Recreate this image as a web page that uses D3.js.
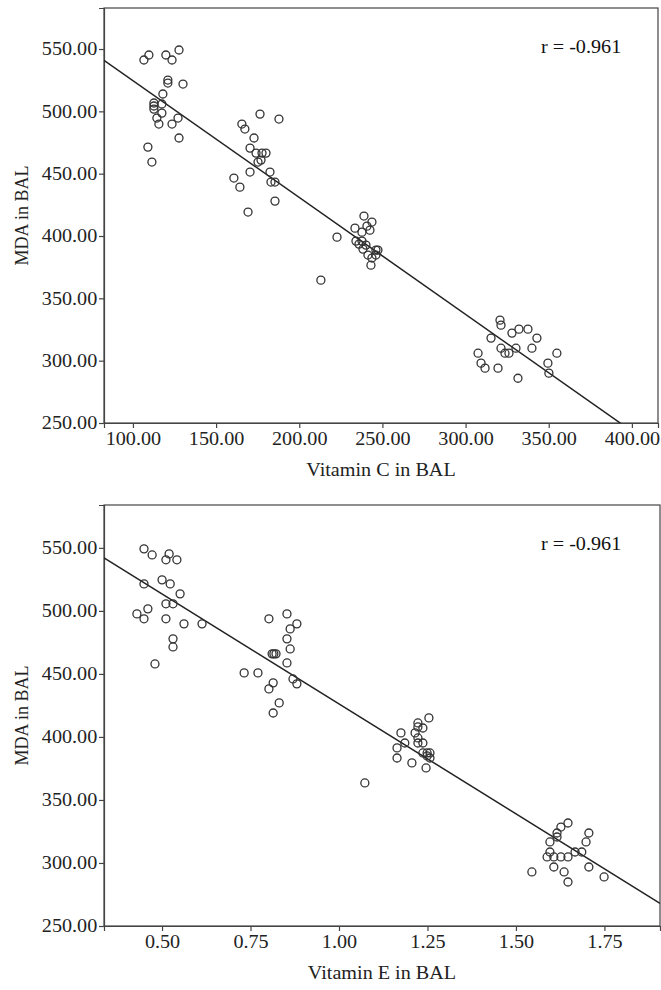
<!DOCTYPE html>
<html><head><meta charset="utf-8">
<script src="https://cdn.jsdelivr.net/npm/d3@7"></script>
<style>body{margin:0;background:#fff}svg{display:block}</style>
</head><body>
<svg id="c" width="661" height="990"></svg>
<script>
const yTicks = [250, 300, 350, 400, 450, 500, 550];
const xTicksC = [100, 150, 200, 250, 300, 350, 400];
const xTicksE = [0.5, 0.75, 1.0, 1.25, 1.5, 1.75];

const vitC = [106.6,109.6,119.8,123.5,127.7,121.0,121.0,130.1,118.0,112.6,112.6,112.6,117.4,117.4,114.4,115.6,127.1,123.5,127.7,109.0,111.4,
 165.5,167.3,176.4,187.8,172.8,170.4,174.0,177.6,180.0,175.2,177.0,160.7,164.3,170.4,182.4,183.0,185.4,169.2,185.4,
 222.7,213.0,233.5,234.1,237.7,238.9,240.7,243.7,237.7,240.1,238.3,241.3,243.1,243.7,246.1,247.3,246.1,235.9,242.5,
 320.7,321.3,315.3,327.9,332.1,337.5,342.9,339.9,321.3,323.7,326.1,330.3,307.5,309.3,311.7,319.5,331.5,349.5,350.1,354.9];
const mdaC = [541.2,545.2,545.2,541.2,549.2,525.1,522.7,521.9,513.9,506.7,504.3,501.8,505.9,498.6,494.6,489.8,494.6,489.8,478.6,471.3,459.3,
 489.8,485.8,497.8,493.8,478.6,470.5,466.5,466.5,466.5,459.3,460.9,446.5,439.2,451.3,451.3,443.3,443.3,419.2,428.0,
 399.1,364.6,406.3,395.9,403.1,416.0,407.9,411.2,395.9,392.7,389.5,384.7,376.6,382.3,388.7,388.7,384.7,393.5,404.7,
 332.5,328.5,318.1,322.1,325.3,325.3,318.1,310.0,310.0,306.0,306.0,310.0,306.0,298.0,294.0,294.0,285.9,298.0,290.0,306.0];

const vitE = [0.449,0.472,0.520,0.511,0.542,0.500,0.523,0.551,0.449,0.511,0.531,0.429,0.460,0.449,0.511,0.562,0.613,0.531,0.531,0.480,
 0.802,0.853,0.881,0.862,0.853,0.862,0.811,0.816,0.822,0.853,0.732,0.771,0.814,0.802,0.870,0.881,0.831,0.814,
 1.254,1.223,1.223,1.237,1.215,1.175,1.223,1.223,1.237,1.186,1.164,1.237,1.249,1.257,1.249,1.257,1.164,1.206,1.246,1.073,
 1.647,1.627,1.616,1.616,1.706,1.596,1.698,1.596,1.667,1.686,1.588,1.607,1.627,1.647,1.607,1.706,1.545,1.636,1.749,1.647];
const mdaE = [549.2,544.4,545.2,540.5,540.5,524.6,521.4,513.5,521.4,505.6,505.6,497.6,501.6,493.7,493.7,489.7,489.7,477.8,471.4,457.9,
 493.7,497.6,489.7,485.7,477.8,469.8,465.9,465.9,465.9,458.7,450.8,450.8,442.9,438.1,446.0,442.1,427.0,419.0,
 415.1,411.1,407.9,407.1,403.2,403.2,399.2,395.2,395.2,395.2,391.3,387.3,387.3,387.3,384.9,383.3,383.3,379.4,375.4,363.5,
 331.7,328.5,323.8,320.6,323.8,316.7,316.7,308.7,308.7,308.7,304.8,304.8,304.8,304.8,296.8,296.8,292.9,292.9,288.9,284.9];

const fitC = [618.4, -0.9375];
const fitE = [600.6, -174.4];
const rText = "r = -0.961";

const svg = d3.select("#c");
const font = "'Liberation Serif','Times New Roman',serif";
const SX = 1.12;

function panel(cfg) {
  const {top, bottom, left, right, xDom, yDom, xs, ys, xTicks, fit, xLabel} = cfg;
  const x = d3.scaleLinear().domain(xDom).range([left, right]);
  const y = d3.scaleLinear().domain(yDom).range([bottom, top]);
  const g = svg.append("g");
  const clipId = "clip" + top;
  g.append("clipPath").attr("id", clipId).append("rect")
    .attr("x", left).attr("y", top).attr("width", right - left).attr("height", bottom - top);
  g.append("rect").attr("x", left).attr("y", top).attr("width", right - left).attr("height", bottom - top)
    .attr("fill", "none").attr("stroke", "#444").attr("stroke-width", 1.2);
  const ya = g.append("g").attr("transform", `translate(${left},0)`)
    .call(d3.axisLeft(y).tickValues(yTicks).tickFormat(d3.format(".2f")).tickSizeOuter(0).tickSize(5).tickPadding(1));
  const xa = g.append("g").attr("transform", `translate(0,${bottom})`)
    .call(d3.axisBottom(x).tickValues(xTicks).tickFormat(d3.format(".2f")).tickSizeOuter(0).tickSize(5).tickPadding(4));
  [ya, xa].forEach(a => {
    a.select(".domain").attr("stroke", "#444").attr("stroke-width", 1.2);
    a.selectAll(".tick line").attr("stroke", "#444").attr("stroke-width", 1.2);
    a.selectAll("text").attr("font-family", font).attr("font-size", 18).attr("fill", "#222")
      .attr("transform", `scale(${SX},1)`);
  });
  const x0 = xDom[0], x1 = xDom[1];
  g.append("line").attr("clip-path", `url(#${clipId})`)
    .attr("x1", x(x0)).attr("y1", y(fit[0] + fit[1] * x0))
    .attr("x2", x(x1)).attr("y2", y(fit[0] + fit[1] * x1))
    .attr("stroke", "#222").attr("stroke-width", 1.5);
  g.append("g").selectAll("circle").data(xs.map((v, i) => [v, ys[i]])).join("circle")
    .attr("cx", d => x(d[0])).attr("cy", d => y(d[1])).attr("r", 4)
    .attr("fill", "none").attr("stroke", "#333").attr("stroke-width", 1.3);
  g.append("text").attr("transform", `translate(541,${top + 45}) scale(${SX},1)`).text(rText)
    .attr("font-family", font).attr("font-size", 18).attr("fill", "#111");
  g.append("text").attr("transform", `translate(${(left + right) / 2 - 0},${bottom + 53}) scale(${SX},1)`)
    .attr("text-anchor", "middle")
    .text(xLabel).attr("font-family", font).attr("font-size", 18).attr("fill", "#222");
  g.append("text").attr("transform", `translate(28,${(top + bottom) / 2}) rotate(-90)`).attr("text-anchor", "middle")
    .text("MDA in BAL").attr("font-family", font).attr("font-size", 18).attr("fill", "#222");
}

panel({top: 8, bottom: 423, left: 104, right: 658, xDom: [82.6, 415.7], yDom: [250, 582.9],
  xs: vitC, ys: mdaC, xTicks: xTicksC, fit: fitC, xLabel: "Vitamin C in BAL"});
panel({top: 505, bottom: 926, left: 104, right: 660, xDom: [0.336, 1.907], yDom: [250, 584],
  xs: vitE, ys: mdaE, xTicks: xTicksE, fit: fitE, xLabel: "Vitamin E in BAL"});
</script>
</body></html>
